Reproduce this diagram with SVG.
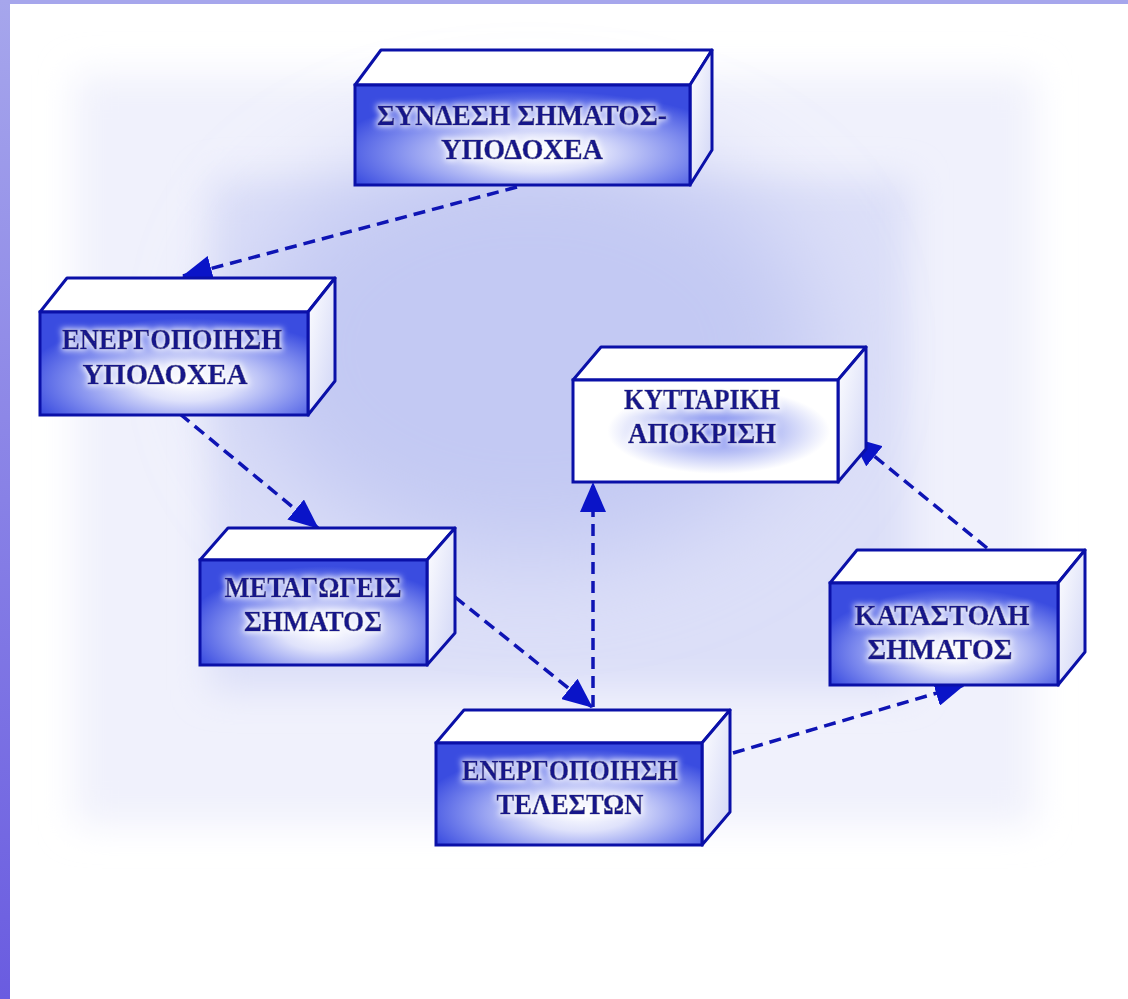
<svg xmlns="http://www.w3.org/2000/svg" width="1128" height="999" viewBox="0 0 1128 999">
  <defs>
    <linearGradient id="barGrad" x1="0" y1="0" x2="0" y2="1">
      <stop offset="0" stop-color="#a6a6ec"/>
      <stop offset="1" stop-color="#6a5ce0"/>
    </linearGradient>
    <radialGradient id="frontBlue" cx="0.55" cy="0.68" r="0.62">
      <stop offset="0" stop-color="#ffffff"/>
      <stop offset="0.3" stop-color="#dfe2fb"/>
      <stop offset="0.7" stop-color="#7f8cee"/>
      <stop offset="1" stop-color="#3a4ce0"/>
    </radialGradient>
    <radialGradient id="frontWhite" cx="0.55" cy="0.5" r="0.42">
      <stop offset="0" stop-color="#5062ea"/>
      <stop offset="0.45" stop-color="#aeb7f4"/>
      <stop offset="1" stop-color="#ffffff"/>
    </radialGradient>
    <linearGradient id="sideGrad" x1="0" y1="0" x2="1" y2="1">
      <stop offset="0" stop-color="#ffffff"/>
      <stop offset="1" stop-color="#cfd4f6"/>
    </linearGradient>
    <filter id="blur1" x="-20%" y="-20%" width="140%" height="140%">
      <feGaussianBlur stdDeviation="18"/>
    </filter>
    <filter id="blur2" x="-30%" y="-30%" width="160%" height="160%">
      <feGaussianBlur stdDeviation="50"/>
    </filter>
    <filter id="glow" x="-10%" y="-30%" width="120%" height="160%">
      <feMorphology in="SourceAlpha" operator="dilate" radius="1" result="d"/>
      <feGaussianBlur in="d" stdDeviation="3" result="b"/>
      <feFlood flood-color="#ffffff"/>
      <feComposite in2="b" operator="in" result="w"/>
      <feMerge>
        <feMergeNode in="w"/>
        <feMergeNode in="SourceGraphic"/>
      </feMerge>
    </filter>
    <marker id="arrow" viewBox="0 0 30 26" refX="29" refY="13" markerWidth="30" markerHeight="26" markerUnits="userSpaceOnUse" orient="auto">
      <path d="M0,0 L30,13 L0,26 Z" fill="#0a14c8"/>
    </marker>
    <style>
      .edge { fill: none; stroke: #0e14b4; stroke-width: 3.5; stroke-dasharray: 12 7; }
      .top { fill: #ffffff; stroke: #0a10a8; stroke-width: 3; stroke-linejoin: round; }
      .side { fill: url(#sideGrad); stroke: #0a10a8; stroke-width: 3; stroke-linejoin: round; }
      .front { fill: url(#frontBlue); stroke: #0a10a8; stroke-width: 3; }
      .frontW { fill: url(#frontWhite); stroke: #0a10a8; stroke-width: 3; }
      .label { font-family: "Liberation Serif", "Times New Roman", serif; font-weight: bold; font-size: 30px; fill: #14148a; stroke: #14148a; stroke-width: 0.6; text-anchor: middle; filter: url(#glow); }
    </style>
  </defs>

  <rect width="1128" height="999" fill="#ffffff"/>
  <g id="background">
    <rect x="75" y="75" width="960" height="750" fill="#f0f1fc" filter="url(#blur1)"/>
    <rect x="210" y="180" width="700" height="510" fill="#dcdff8" filter="url(#blur1)"/>
    <ellipse cx="530" cy="350" rx="290" ry="210" fill="#c3c9f3" filter="url(#blur2)"/>
  </g>
  <rect x="0" y="0" width="1128" height="4" fill="#a6a6ec"/>
  <rect x="0" y="0" width="10" height="999" fill="url(#barGrad)"/>

  <g id="connectors">
    <line class="edge" x1="517" y1="187" x2="183" y2="276" marker-end="url(#arrow)"/>
    <line class="edge" x1="180" y1="414" x2="318" y2="528" marker-end="url(#arrow)"/>
    <line class="edge" x1="455" y1="597" x2="592" y2="707" marker-end="url(#arrow)"/>
    <line class="edge" x1="593" y1="707" x2="593" y2="483" marker-end="url(#arrow)"/>
    <line class="edge" x1="733" y1="753" x2="964" y2="685" marker-end="url(#arrow)"/>
    <line class="edge" x1="987" y1="548" x2="852" y2="438" marker-end="url(#arrow)"/>
  </g>

  <g id="node-syndesi">
    <polygon class="top" points="355,85 381,50 712,50 690,85"/>
    <polygon class="side" points="690,85 712,50 712,150 690,185"/>
    <rect class="front" x="355" y="85" width="335" height="100"/>
    <text class="label" x="522" y="125" textLength="290" lengthAdjust="spacingAndGlyphs">ΣΥΝΔΕΣΗ ΣΗΜΑΤΟΣ-</text>
    <text class="label" x="522" y="159" textLength="162" lengthAdjust="spacingAndGlyphs">ΥΠΟΔΟΧΕΑ</text>
  </g>

  <g id="node-energopoiisi-ypodoxea">
    <polygon class="top" points="40,312 67,278 335,278 308,312"/>
    <polygon class="side" points="308,312 335,278 335,381 308,415"/>
    <rect class="front" x="40" y="312" width="268" height="103"/>
    <text class="label" x="172" y="349" textLength="220" lengthAdjust="spacingAndGlyphs">ΕΝΕΡΓΟΠΟΙΗΣΗ</text>
    <text class="label" x="165" y="384" textLength="165" lengthAdjust="spacingAndGlyphs">ΥΠΟΔΟΧΕΑ</text>
  </g>

  <g id="node-kyttariki">
    <polygon class="top" points="573,380 601,347 866,347 838,380"/>
    <polygon class="side" points="838,380 866,347 866,449 838,482"/>
    <rect class="frontW" x="573" y="380" width="265" height="102"/>
    <text class="label" x="702" y="409" textLength="156" lengthAdjust="spacingAndGlyphs">ΚΥΤΤΑΡΙΚΗ</text>
    <text class="label" x="702" y="443" textLength="148" lengthAdjust="spacingAndGlyphs">ΑΠΟΚΡΙΣΗ</text>
  </g>

  <g id="node-metagogeis">
    <polygon class="top" points="200,560 228,528 455,528 427,560"/>
    <polygon class="side" points="427,560 455,528 455,633 427,665"/>
    <rect class="front" x="200" y="560" width="227" height="105"/>
    <text class="label" x="313" y="597" textLength="177" lengthAdjust="spacingAndGlyphs">ΜΕΤΑΓΩΓΕΙΣ</text>
    <text class="label" x="313" y="631" textLength="138" lengthAdjust="spacingAndGlyphs">ΣΗΜΑΤΟΣ</text>
  </g>

  <g id="node-telestwn">
    <polygon class="top" points="436,743 464,710 730,710 702,743"/>
    <polygon class="side" points="702,743 730,710 730,812 702,845"/>
    <rect class="front" x="436" y="743" width="266" height="102"/>
    <text class="label" x="570" y="780" textLength="216" lengthAdjust="spacingAndGlyphs">ΕΝΕΡΓΟΠΟΙΗΣΗ</text>
    <text class="label" x="570" y="814" textLength="147" lengthAdjust="spacingAndGlyphs">ΤΕΛΕΣΤΩΝ</text>
  </g>

  <g id="node-katastoli">
    <polygon class="top" points="830,583 857,550 1085,550 1058,583"/>
    <polygon class="side" points="1058,583 1085,550 1085,652 1058,685"/>
    <rect class="front" x="830" y="583" width="228" height="102"/>
    <text class="label" x="942" y="625" textLength="175" lengthAdjust="spacingAndGlyphs">ΚΑΤΑΣΤΟΛΗ</text>
    <text class="label" x="940" y="659" textLength="145" lengthAdjust="spacingAndGlyphs">ΣΗΜΑΤΟΣ</text>
  </g>
</svg>
